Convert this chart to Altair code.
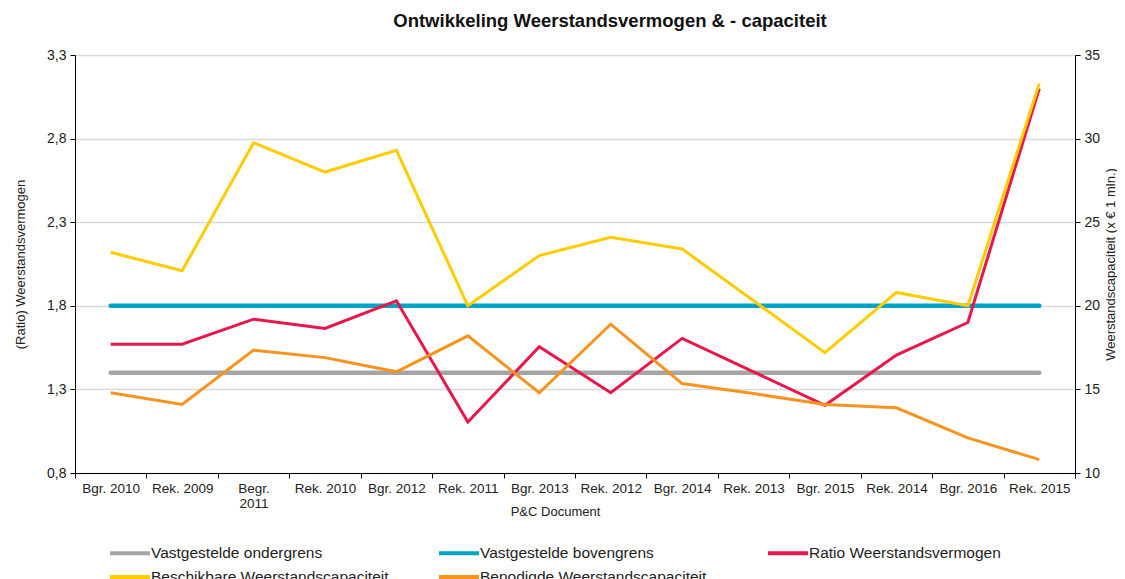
import altair as alt
import pandas as pd

categories = ["Bgr. 2010", "Rek. 2009", "Begr. 2011", "Rek. 2010", "Bgr. 2012",
              "Rek. 2011", "Bgr. 2013", "Rek. 2012", "Bgr. 2014", "Rek. 2013",
              "Bgr. 2015", "Rek. 2014", "Bgr. 2016", "Rek. 2015"]

ondergrens = [1.4, 1.4, 1.4, 1.4, 1.4, 1.4, 1.4, 1.4, 1.4, 1.4, 1.4, 1.4, 1.4, 1.4]
bovengrens = [1.8, 1.8, 1.8, 1.8, 1.8, 1.8, 1.8, 1.8, 1.8, 1.8, 1.8, 1.8, 1.8, 1.8]
ratio = [1.57, 1.57, 1.72, 1.665, 1.83, 1.105, 1.555, 1.28, 1.605, 1.405,
         1.205, 1.505, 1.70, 3.10]
beschikbaar = [23.2, 22.1, 29.75, 28.0, 29.3, 20.0, 23.0, 24.1, 23.4, 20.3,
               17.2, 20.8, 20.0, 33.3]
benodigd = [14.8, 14.1, 17.35, 16.9, 16.05, 18.2, 14.8, 18.9, 15.35, 14.75,
            14.1, 13.9, 12.1, 10.8]

series_names = ["Vastgestelde ondergrens", "Vastgestelde bovengrens",
                "Ratio Weerstandsvermogen", "Beschikbare Weerstandscapaciteit",
                "Benodigde Weerstandscapaciteit"]
series_colors = ["#a5a5a5", "#00a3c8", "#e8174b", "#ffcc00", "#f7931e"]

left_ticks = [0.8, 1.3, 1.8, 2.3, 2.8, 3.3]
right_ticks = [10, 15, 20, 25, 30, 35]


def long(names, lists):
    rows = []
    for n, vals in zip(names, lists):
        for c, v in zip(categories, vals):
            rows.append({"cat": c, "val": v, "series": n})
    return pd.DataFrame(rows)


df_thick = long(series_names[0:2], [ondergrens, bovengrens])
df_ratio = long(series_names[2:3], [ratio])
df_right = long(series_names[3:5], [beschikbaar, benodigd])

FONT = "Liberation Sans"

x_enc = alt.X(
    "cat:N", sort=categories, bandPosition=0.5,
    scale=alt.Scale(type="band", paddingInner=0, paddingOuter=0),
    axis=alt.Axis(
        title="P&C Document", tickBand="extent", labelAngle=0,
        labelExpr="datum.value == 'Begr. 2011' ? ['Begr.', '2011'] : datum.value",
        labelLineHeight=15, labelPadding=3, titleX=480, titleY=38,
        titleBaseline="middle", titleAnchor="start", titleAlign="center",
        domainColor="#000", tickColor="#000", tickSize=5, labelFontSize=13.5,
    ),
)

color_enc = alt.Color(
    "series:N",
    scale=alt.Scale(domain=series_names, range=series_colors),
    legend=alt.Legend(
        title=None, orient="none", legendX=33, legendY=488, direction="horizontal",
        columns=3, symbolType="M-1,0H4", symbolSize=256, symbolStrokeWidth=4,
        labelFontSize=15.5, labelFont=FONT, labelOffset=23, labelLimit=400,
        rowPadding=5, columnPadding=42, gridAlign="all", labelColor="#222",
    ),
)

y_left_scale = alt.Scale(domain=[0.8, 3.3], nice=False, zero=False)
y_left_axis = alt.Axis(
    title="(Ratio) Weerstandsvermogen", values=left_ticks, orient="left",
    labelExpr="replace(format(datum.value, '.1f'), '.', ',')",
    grid=True, gridColor="#d9d9d9", gridWidth=1.5,
    titleX=-55, titleY=209, titleBaseline="middle", titleAlign="center",
    domainColor="#000", tickColor="#000", tickSize=5, labelPadding=4,
)

thick = alt.Chart(df_thick).mark_line(strokeWidth=4.5, strokeCap="round").encode(
    x=x_enc,
    y=alt.Y("val:Q", scale=y_left_scale, axis=y_left_axis),
    color=color_enc,
    detail="series:N",
)
thin = alt.Chart(df_ratio).mark_line(strokeWidth=3).encode(
    x=x_enc,
    y=alt.Y("val:Q", scale=y_left_scale, axis=y_left_axis),
    color=color_enc,
)
left = alt.layer(thick, thin)

right = alt.Chart(df_right).mark_line(strokeWidth=3).encode(
    x=x_enc,
    y=alt.Y(
        "val:Q", scale=alt.Scale(domain=[10, 35], nice=False, zero=False),
        axis=alt.Axis(
            title="Weerstandscapaciteit (x € 1 mln.)", values=right_ticks,
            orient="right", grid=False, titleAngle=270,
            titleX=35, titleY=209, titleBaseline="middle", titleAlign="center",
            domainColor="#000", tickColor="#000", tickSize=5, labelPadding=4,
        ),
    ),
    color=color_enc,
)

chart = alt.layer(left, right).resolve_scale(y="independent").properties(
    width=1000, height=418,
    autosize=alt.AutoSizeParams(type="none"),
    padding={"left": 67, "top": 47, "right": 42, "bottom": 106},
    title=alt.TitleParams(
        "Ontwikkeling Weerstandsvermogen & - capaciteit",
        fontSize=18.5, fontWeight="bold", font=FONT, anchor="middle",
        dx=35, offset=18, color="#111",
    ),
).configure_axis(
    labelFont=FONT, titleFont=FONT, labelFontSize=14, titleFontSize=13,
    titleFontWeight="normal", labelColor="#222", titleColor="#222",
).configure_view(strokeWidth=0)

chart.save("out.html", embed_options={"renderer": "svg", "actions": False})
